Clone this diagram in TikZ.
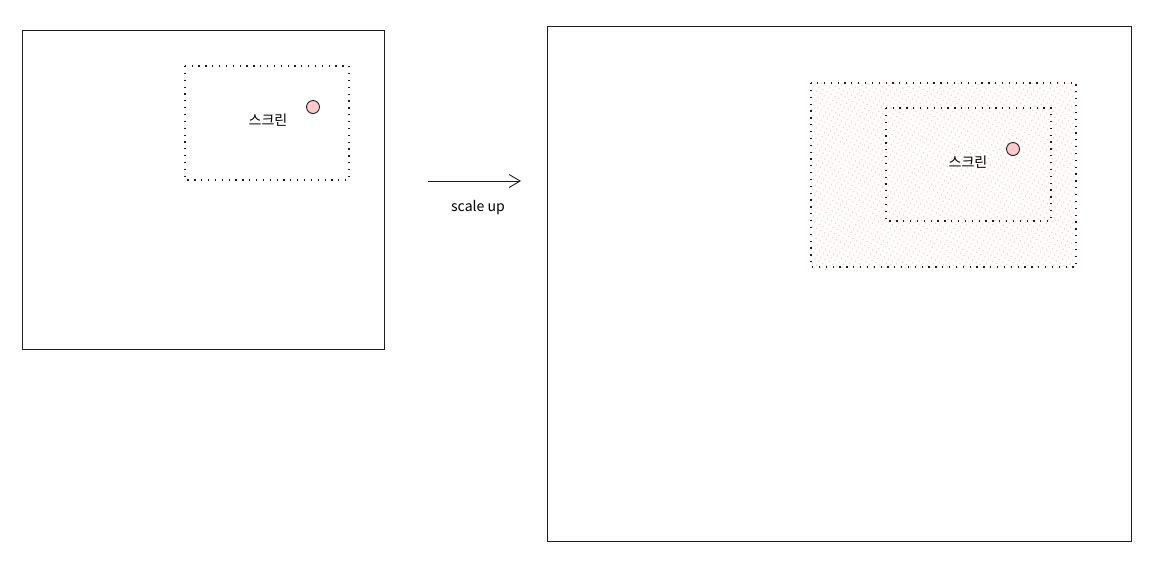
\documentclass[tikz,border=0pt]{standalone}
\usepackage{fontspec}
\newfontfamily\krfont{Noto Sans CJK KR}
\usetikzlibrary{arrows.meta,patterns.meta}
\definecolor{dotpink}{HTML}{FFC9C9}
\definecolor{ink}{HTML}{1E1E1E}

\begin{document}
\begin{tikzpicture}[x=0.02cm, y=-0.02cm, font=\krfont\fontsize{8}{10}\selectfont,
  >={Straight Barb[length=2.2mm, width=2.6mm]},
  frame/.style={draw=ink, line width=0.5pt},
  view/.style={draw=ink, dash pattern=on 0.7pt off 3.2pt, line width=0.7pt},
  zone/.style={view, pattern={Lines[angle=60, distance=2.6pt, line width=0.6pt]}, pattern color=dotpink},
  dot/.style={draw=ink, circle, fill=dotpink, minimum size=2.6mm, inner sep=0pt, line width=0.5pt},
  arr/.style={->, draw=ink, line width=0.5pt}]
  \useasboundingbox (0,0) rectangle (1157,583);

  % before
  \draw[frame] (22,30) rectangle (384,349);
  \draw[view] (185,66) rectangle (349,180);
  \node[dot] (P) at (313,107) {};
  \node (S) at (268,120) {스크린};

  % arrow
  \coordinate (from) at (428,181);
  \coordinate (to) at (521,181);
  \draw[arr] (from) -- (to);
  \node (lbl) at (478,208) {scale up};

  % after
  \draw[frame] (547,26) rectangle (1131,541);
  \draw[zone] (811,83) rectangle (1076,267);
  \draw[view] (886,108) rectangle (1051,221);
  \node[dot] (Q) at (1013,149) {};
  \node (T) at (968,162) {스크린};
\end{tikzpicture}
\end{document}
